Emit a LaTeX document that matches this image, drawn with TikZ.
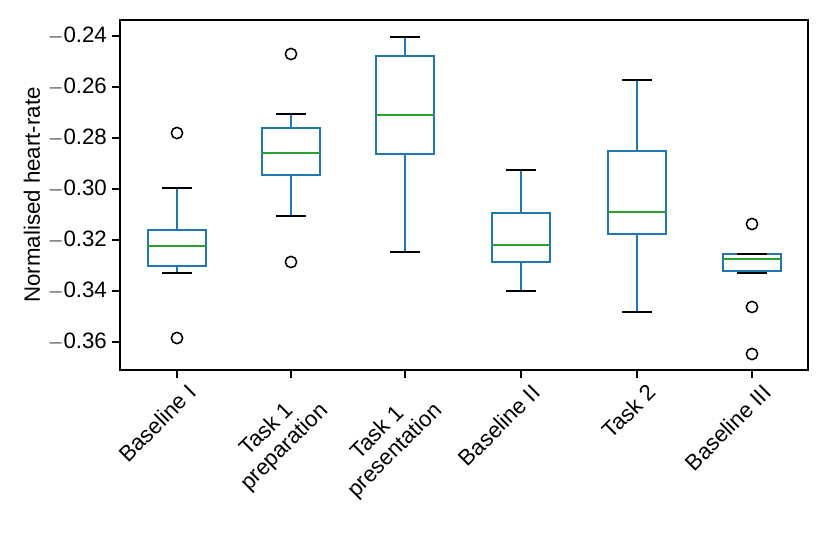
\documentclass[tikz,border=0pt]{standalone}
\usepackage{fontspec}
\setmainfont{Liberation Sans}
\definecolor{boxblue}{HTML}{1F77B4}
\definecolor{medgreen}{HTML}{2CA02C}
\begin{document}
\begin{tikzpicture}[x=0.03cm, y=-0.03cm, line width=1.4pt,
    every node/.style={font=\fontsize{19}{21}\selectfont},
    boxline/.style={draw=boxblue},
    medline/.style={draw=medgreen},
    capline/.style={draw=black},
    outlier/.style={draw=black, circle, inner sep=0pt, minimum size=0.34cm, line width=1.3pt}]
    \useasboundingbox (0,0) rectangle (830,554);
    % Axes frame
    \draw [line width=1pt] (120,20) rectangle (808,370);
    % Y ticks
    \foreach \yy/\lab in {36/0.24, 87/0.26, 138/0.28, 189/0.30, 240/0.32, 291/0.34, 342/0.36}{
        \draw [line width=1pt] (120,\yy) -- (112,\yy);
        \node [anchor=east, inner sep=2pt] at (110,\yy) {$-$\lab};
    }
    \node [rotate=90] (ylabel) at (32,195) {Normalised heart-rate};
    % Boxes: x / top whisker / Q3 / median / Q1 / bottom whisker
    \foreach \xx/\wt/\qa/\md/\qb/\wb in {177/188/230/246/266/273, 291/114/128/153/175/216,
        405/37/56/115/154/252, 521/170/213/245/262/291, 637/80/151/212/234/312,
        752/254/254/259/271/273}{
        \draw [boxline] (\xx-29,\qa) rectangle (\xx+29,\qb);
        \draw [boxline] (\xx,\qa) -- (\xx,\wt);
        \draw [boxline] (\xx,\qb) -- (\xx,\wb);
        \draw [capline] (\xx-15,\wt) -- (\xx+15,\wt);
        \draw [capline] (\xx-15,\wb) -- (\xx+15,\wb);
        \draw [medline] (\xx-29,\md) -- (\xx+29,\md);
    }
    % Outliers
    \foreach \xx/\yy in {177/133, 177/338, 291/54, 291/262, 752/224, 752/307, 752/354}{
        \node [outlier] at (\xx,\yy) {};
    }
    % X tick labels
    \foreach \xx/\lab in {177/Baseline I, 291/{Task 1\\preparation}, 405/{Task 1\\presentation},
        521/Baseline II, 637/Task 2, 752/Baseline III}{
        \draw [line width=1pt] (\xx,370) -- (\xx,378);
        \node [anchor=north east, rotate=45, align=center, inner sep=1pt] at (\xx+9,380) {\lab};
    }
\end{tikzpicture}
\end{document}
